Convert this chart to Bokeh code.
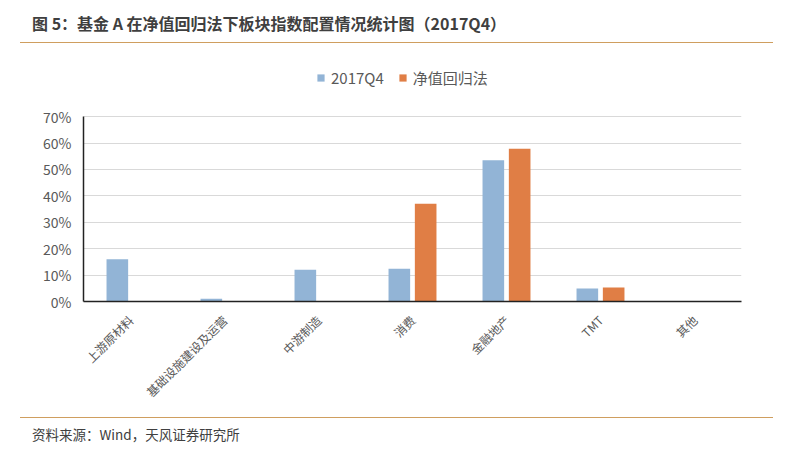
import math
from bokeh.plotting import figure
from bokeh.models import ColumnDataSource, FactorRange, NumeralTickFormatter, Legend, LegendItem, Div, FixedTicker
from bokeh.transform import dodge
from bokeh.layouts import column
from bokeh.embed import file_html
from bokeh.resources import INLINE

categories = ["上游原材料", "基础设施建设及运营", "中游制造", "消费", "金融地产", "TMT", "其他"]
q4_2017 = [0.16, 0.01, 0.12, 0.124, 0.535, 0.049, 0.0]
nav_regression = [0.0, 0.0, 0.0, 0.37, 0.578, 0.053, 0.0]
series_names = ["2017Q4", "净值回归法"]
y_ticks = [0, 0.1, 0.2, 0.3, 0.4, 0.5, 0.6, 0.7]

FONT = "Noto Sans CJK SC"
BLUE = "#92b4d6"
ORANGE = "#e07e45"
GRAY = "#595959"
RULE = "#cf9e5f"

src = ColumnDataSource(dict(cat=categories, a=q4_2017, b=nav_regression))

title_div = Div(
    text=('<div style="margin-left:15px;width:753px;height:38px;box-sizing:border-box;'
          f'border-bottom:1.5px solid {RULE};padding-left:12px;line-height:36px;'
          f'font-family:\'{FONT}\';font-weight:bold;font-size:16px;color:#3f3f3f;white-space:nowrap;">'
          '图 5：基金 A 在净值回归法下板块指数配置情况统计图（2017Q4）</div>'),
    width=789, height=39,
)

p = figure(x_range=FactorRange(*categories), y_range=(0, 0.92),
           width=789, height=363, output_backend="svg", toolbar_location=None,
           min_border_left=83, min_border_right=48, min_border_top=9, min_border_bottom=111)

r1 = p.vbar(x=dodge("cat", -0.14, range=p.x_range), top="a", width=0.23, source=src,
            fill_color=BLUE, line_color=None)
r2 = p.vbar(x=dodge("cat", 0.14, range=p.x_range), top="b", width=0.23, source=src,
            fill_color=ORANGE, line_color=None)

p.outline_line_color = None
p.xgrid.grid_line_color = None
p.ygrid.grid_line_color = "#d9d9d9"
p.ygrid.grid_line_width = 1
p.yaxis.ticker = FixedTicker(ticks=y_ticks)
p.ygrid.ticker = FixedTicker(ticks=y_ticks)
p.yaxis.formatter = NumeralTickFormatter(format="0%")
p.yaxis.bounds = (0, 0.7)
for ax in (p.xaxis, p.yaxis):
    ax.major_tick_line_color = None
    ax.minor_tick_line_color = None
    ax.axis_line_color = "#222222"
    ax.axis_line_width = 1.5
    ax.major_label_text_color = GRAY
    ax.major_label_text_font = FONT
p.yaxis.major_label_text_font_size = "14px"
p.xaxis.major_label_text_font_size = "12px"
p.xaxis.major_label_orientation = math.pi / 4
p.xaxis.major_label_standoff = 10
p.yaxis.major_label_standoff = 6

legend = Legend(items=[LegendItem(label=series_names[0], renderers=[r1]),
                       LegendItem(label=series_names[1], renderers=[r2])],
                orientation="horizontal", location=(233, 213),
                label_text_font=FONT, label_text_font_size="15px", label_text_color=GRAY,
                glyph_width=9, glyph_height=9, spacing=14, label_standoff=6,
                border_line_color=None, background_fill_alpha=0, margin=0, padding=0)
p.add_layout(legend)

source_div = Div(
    text=(f'<div style="margin-left:15px;width:753px;border-top:1.5px solid {RULE};'
          f'padding-left:12px;padding-top:7px;font-family:\'{FONT}\';font-size:13.5px;color:#404040;white-space:nowrap;">'
          '资料来源：Wind，天风证券研究所</div>'),
    width=789, height=32,
)

layout = column(title_div, p, source_div, spacing=0)
open("out.html", "w").write(file_html(layout, INLINE))
